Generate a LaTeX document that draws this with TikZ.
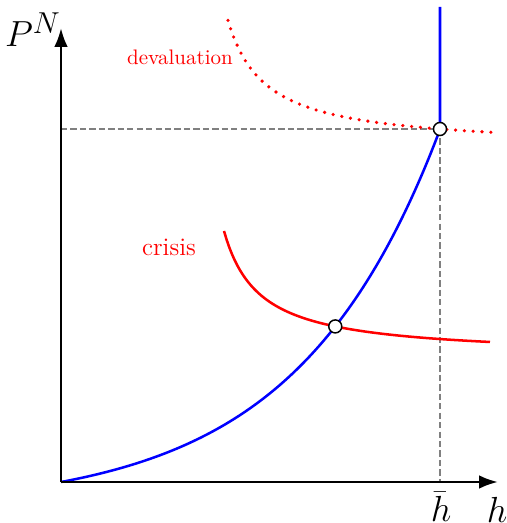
\documentclass[tikz,border=0pt]{standalone}
\usepackage{amsmath,amssymb}
\usepackage{xcolor}
\usepackage{tikz}
\usetikzlibrary{arrows.meta, positioning, intersections}

\begin{document}
\begin{tikzpicture}[
    x=0.476pt, y=0.476pt,
    axis/.style={-{Latex[length=9pt,width=6.5pt]}, line width=1.3pt},
    curveB/.style={blue, line width=1.2pt},
    curveR/.style={red, line width=1.2pt},
    curveD/.style={red, line width=1.7pt, line cap=round, dash pattern=on 0pt off 4.2pt},
    guide/.style={gray, line width=0.6pt, dash pattern=on 3pt off 1.5pt},
    eq/.style={circle, draw, fill=white, line width=0.7pt, inner sep=0pt, minimum size=6.2pt},
    lbl/.style={text=red},
    tick/.style={inner sep=0.5pt, font=\LARGE}
]
\useasboundingbox (0,0) rectangle (506,523);

% Axes
\coordinate (O) at (61,41);
\coordinate (ytop) at (61,495);
\coordinate (xend) at (498,41);
\coordinate (hb) at (440,41);
\coordinate (E) at (440,394);
\coordinate (yE) at (61,394);
\coordinate (btop) at (440,516);

% Guides
\draw[guide] (yE) -- (E);
\draw[guide] (E) -- (hb);

% Curves
\draw[curveB, name path=demand] plot[domain=61:440, samples=120] (\x, {41 + 26.8*(exp(2.65*(\x-61)/379)-1)}) -- (btop);
\draw[curveR, name path=crisis] plot[domain=224:490, samples=100] (\x, {166.3 + 4438/(\x-188.7)});
\draw[curveD] plot[domain=228:495, samples=100] (\x, {374.7 + 4825/(\x-190.3)});

\draw[axis] (O) -- (ytop);
\draw[axis] (O) -- (xend);

% Equilibria
\path[name intersections={of=demand and crisis, by=C}];
\node[eq] (cpt) at (C) {};
\node[eq] (dpt) at (E) {};

% Labels
\node (pn) at (33,493) {\fontsize{19}{22}\selectfont $P^N$};
\node[lbl] (dev) at (180,466) {devaluation};
\node[lbl] (cri) at (169,276) {\large crisis};
\node[tick] (hbar) at (441,16) {$\bar{h}$};
\node[tick] (h) at (497,13) {$h$};

\end{tikzpicture}
\end{document}
